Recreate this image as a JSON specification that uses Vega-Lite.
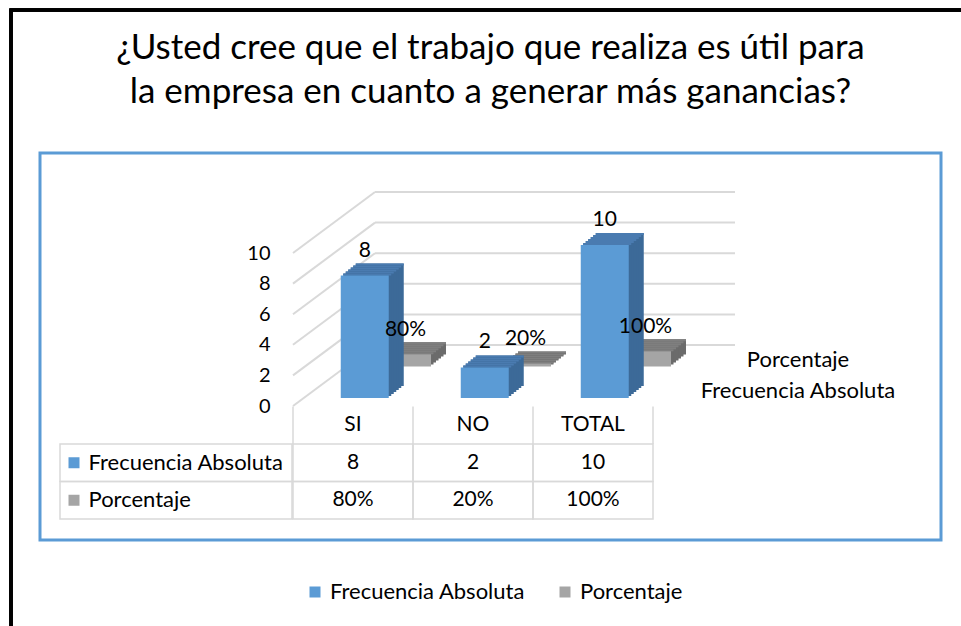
{
  "$schema": "https://vega.github.io/schema/vega-lite/v6.json",
  "width": 901,
  "height": 387,
  "autosize": {"type": "none"},
  "padding": {"left": 40, "top": 153, "right": 20, "bottom": 86},
  "background": "white",
  "config": {
    "font": "Lato",
    "view": {"stroke": "#5b9bd5", "strokeWidth": 3},
    "text": {"color": "#000000", "font": "Lato"}
  },
  "title": {
    "text": ["¿Usted cree que el trabajo que realiza es útil para", "la empresa en cuanto a generar más ganancias?"],
    "font": "Lato",
    "fontSize": 35,
    "fontWeight": "normal",
    "color": "#000000",
    "anchor": "middle",
    "frame": "group",
    "lineHeight": 43.5,
    "baseline": "alphabetic",
    "offset": -129
  },
  "datasets": {
    "datos": [
      {"categoria": "SI", "serie": "Frecuencia Absoluta", "valor": 8},
      {"categoria": "NO", "serie": "Frecuencia Absoluta", "valor": 2},
      {"categoria": "TOTAL", "serie": "Frecuencia Absoluta", "valor": 10},
      {"categoria": "SI", "serie": "Porcentaje", "valor": 0.8},
      {"categoria": "NO", "serie": "Porcentaje", "valor": 0.2},
      {"categoria": "TOTAL", "serie": "Porcentaje", "valor": 1.0}
    ],
    "rejilla": [{"valor": 0}, {"valor": 2}, {"valor": 4}, {"valor": 6}, {"valor": 8}, {"valor": 10}]
  },
  "data": {"name": "datos"},
  "encoding": {
    "x": {
      "field": "categoria",
      "type": "nominal",
      "scale": {"type": "band", "domain": ["SI", "NO", "TOTAL"], "range": [253, 613], "paddingInner": 0, "paddingOuter": 0},
      "axis": null
    }
  },
  "layer": [
    {
      "encoding": {
        "y": {
          "field": "valor",
          "type": "quantitative",
          "scale": {"domain": [-8.758, 16.536], "nice": false, "zero": false},
          "axis": {"values": [0, 2, 4, 6, 8, 10], "orient": "left", "offset": -253, "domain": false, "ticks": false, "tickSize": 0, "grid": false, "labelPadding": 23, "labelFontSize": 20, "labelColor": "#000000", "labelFont": "Lato", "title": null}
        }
      },
      "layer": [
        {"mark": {"type": "rule", "stroke": "#000000", "strokeWidth": 3, "xOffset": -342, "yOffset": -143, "y2Offset": 95}, "encoding": {"x": {"datum": "SI", "type": "nominal"}, "y": {"datum": 16.536, "type": "quantitative"}, "y2": {"datum": -8.758}}},
        {"mark": {"type": "rule", "stroke": "#000000", "strokeWidth": 3, "xOffset": -343.5, "x2Offset": 380, "yOffset": -143, "y2Offset": -143}, "encoding": {"x": {"datum": "SI", "type": "nominal"}, "x2": {"datum": "TOTAL"}, "y": {"datum": 16.536, "type": "quantitative"}, "y2": {"datum": 16.536}}},
        {"data": {"name": "rejilla"}, "mark": {"type": "rule", "stroke": "#d9d9d9", "strokeWidth": 2, "xOffset": 22, "x2Offset": 142, "yOffset": -61, "y2Offset": -61}, "encoding": {"x": {"datum": "SI", "type": "nominal"}, "x2": {"datum": "TOTAL"}, "y2": {"field": "valor"}}},
        {"data": {"name": "rejilla"}, "mark": {"type": "rule", "stroke": "#d9d9d9", "strokeWidth": 2, "xOffset": -60, "x2Offset": 22, "y2Offset": -61}, "encoding": {"x": {"datum": "SI", "type": "nominal"}, "x2": {"datum": "SI"}, "y2": {"field": "valor"}}},
        {
          "transform": [{"filter": "datum.serie == 'Porcentaje'"}],
          "layer": [
            {"mark": {"type": "bar", "width": 48, "color": "#6b6b6b", "xOffset": 69, "yOffset": -51.5, "y2Offset": -51.5}, "encoding": {"y2": {"datum": 0}}},
            {"mark": {"type": "bar", "width": 48, "color": "#7f7f7f", "xOffset": 69, "yOffset": -51.5, "y2Offset": -49.5}, "encoding": {"y2": {"field": "valor"}}},
            {"mark": {"type": "bar", "width": 48, "color": "#6b6b6b", "xOffset": 66.5, "yOffset": -49.5, "y2Offset": -49.5}, "encoding": {"y2": {"datum": 0}}},
            {"mark": {"type": "bar", "width": 48, "color": "#7f7f7f", "xOffset": 66.5, "yOffset": -49.5, "y2Offset": -47.5}, "encoding": {"y2": {"field": "valor"}}},
            {"mark": {"type": "bar", "width": 48, "color": "#6b6b6b", "xOffset": 64, "yOffset": -47.5, "y2Offset": -47.5}, "encoding": {"y2": {"datum": 0}}},
            {"mark": {"type": "bar", "width": 48, "color": "#7f7f7f", "xOffset": 64, "yOffset": -47.5, "y2Offset": -45.5}, "encoding": {"y2": {"field": "valor"}}},
            {"mark": {"type": "bar", "width": 48, "color": "#6b6b6b", "xOffset": 61.5, "yOffset": -45.5, "y2Offset": -45.5}, "encoding": {"y2": {"datum": 0}}},
            {"mark": {"type": "bar", "width": 48, "color": "#7f7f7f", "xOffset": 61.5, "yOffset": -45.5, "y2Offset": -43.5}, "encoding": {"y2": {"field": "valor"}}},
            {"mark": {"type": "bar", "width": 48, "color": "#6b6b6b", "xOffset": 59, "yOffset": -43.5, "y2Offset": -43.5}, "encoding": {"y2": {"datum": 0}}},
            {"mark": {"type": "bar", "width": 48, "color": "#7f7f7f", "xOffset": 59, "yOffset": -43.5, "y2Offset": -41.5}, "encoding": {"y2": {"field": "valor"}}},
            {"mark": {"type": "bar", "width": 48, "color": "#6b6b6b", "xOffset": 56.5, "yOffset": -41.5, "y2Offset": -41.5}, "encoding": {"y2": {"datum": 0}}},
            {"mark": {"type": "bar", "width": 48, "color": "#7f7f7f", "xOffset": 56.5, "yOffset": -41.5, "y2Offset": -39.5}, "encoding": {"y2": {"field": "valor"}}},
            {"mark": {"type": "bar", "width": 48, "xOffset": 54, "yOffset": -39.5, "y2Offset": -39.5}, "encoding": {"y2": {"datum": 0}, "color": {"field": "serie", "type": "nominal"}}}
          ]
        },
        {
          "transform": [{"filter": "datum.serie == 'Frecuencia Absoluta'"}],
          "layer": [
            {"mark": {"type": "bar", "width": 48, "color": "#3c6a98", "xOffset": 26.75, "yOffset": -20, "y2Offset": -20}, "encoding": {"y2": {"datum": 0}}},
            {"mark": {"type": "bar", "width": 48, "color": "#4a7bb0", "xOffset": 26.75, "yOffset": -20, "y2Offset": -18}, "encoding": {"y2": {"field": "valor"}}},
            {"mark": {"type": "bar", "width": 48, "color": "#3c6a98", "xOffset": 24.25, "yOffset": -18, "y2Offset": -18}, "encoding": {"y2": {"datum": 0}}},
            {"mark": {"type": "bar", "width": 48, "color": "#4a7bb0", "xOffset": 24.25, "yOffset": -18, "y2Offset": -16}, "encoding": {"y2": {"field": "valor"}}},
            {"mark": {"type": "bar", "width": 48, "color": "#3c6a98", "xOffset": 21.75, "yOffset": -16, "y2Offset": -16}, "encoding": {"y2": {"datum": 0}}},
            {"mark": {"type": "bar", "width": 48, "color": "#4a7bb0", "xOffset": 21.75, "yOffset": -16, "y2Offset": -14}, "encoding": {"y2": {"field": "valor"}}},
            {"mark": {"type": "bar", "width": 48, "color": "#3c6a98", "xOffset": 19.25, "yOffset": -14, "y2Offset": -14}, "encoding": {"y2": {"datum": 0}}},
            {"mark": {"type": "bar", "width": 48, "color": "#4a7bb0", "xOffset": 19.25, "yOffset": -14, "y2Offset": -12}, "encoding": {"y2": {"field": "valor"}}},
            {"mark": {"type": "bar", "width": 48, "color": "#3c6a98", "xOffset": 16.75, "yOffset": -12, "y2Offset": -12}, "encoding": {"y2": {"datum": 0}}},
            {"mark": {"type": "bar", "width": 48, "color": "#4a7bb0", "xOffset": 16.75, "yOffset": -12, "y2Offset": -10}, "encoding": {"y2": {"field": "valor"}}},
            {"mark": {"type": "bar", "width": 48, "color": "#3c6a98", "xOffset": 14.25, "yOffset": -10, "y2Offset": -10}, "encoding": {"y2": {"datum": 0}}},
            {"mark": {"type": "bar", "width": 48, "color": "#4a7bb0", "xOffset": 14.25, "yOffset": -10, "y2Offset": -8}, "encoding": {"y2": {"field": "valor"}}},
            {"mark": {"type": "bar", "width": 48, "xOffset": 11.75, "yOffset": -8, "y2Offset": -8}, "encoding": {"y2": {"datum": 0}, "color": {"field": "serie", "type": "nominal"}}},
            {"mark": {"type": "text", "fontSize": 21, "dx": 11.75, "dy": -27, "baseline": "alphabetic", "align": "center"}, "encoding": {"text": {"field": "valor", "type": "quantitative", "format": "d"}}}
          ]
        },
        {"transform": [{"filter": "datum.serie == 'Porcentaje'"}], "mark": {"type": "text", "fontSize": 21, "dx": 52.5, "dy": -57.5, "baseline": "alphabetic", "align": "center"}, "encoding": {"text": {"field": "valor", "type": "quantitative", "format": ".0%"}}}
      ]
    },
    {
      "encoding": {
        "y": {
          "field": "serie",
          "type": "nominal",
          "scale": {"domain": ["Categoría", "Frecuencia Absoluta", "Porcentaje"], "range": [253.5, 366], "paddingInner": 0, "paddingOuter": 0},
          "axis": {"values": ["Frecuencia Absoluta", "Porcentaje"], "orient": "left", "labelAlign": "left", "labelPadding": -48, "domain": false, "ticks": false, "tickSize": 0, "grid": false, "labelFontSize": 22, "labelLimit": 400, "labelColor": "#000000", "labelFont": "Lato", "title": null}
        }
      },
      "layer": [
        {"mark": {"type": "rect", "fill": "transparent", "stroke": "#d9d9d9", "strokeWidth": 1.5}},
        {"transform": [{"filter": "datum.serie == 'Frecuencia Absoluta'"}], "mark": {"type": "rule", "stroke": "#d9d9d9", "strokeWidth": 1.5, "xOffset": -60, "yOffset": -18.75, "y2Offset": -18.75}, "encoding": {"y": {"datum": "Categoría", "type": "nominal"}, "y2": {"datum": "Frecuencia Absoluta"}}},
        {"transform": [{"filter": "datum.categoria == 'TOTAL' && datum.serie == 'Frecuencia Absoluta'"}], "mark": {"type": "rule", "stroke": "#d9d9d9", "strokeWidth": 1.5, "xOffset": 60, "yOffset": -18.75, "y2Offset": -18.75}, "encoding": {"y": {"datum": "Categoría", "type": "nominal"}, "y2": {"datum": "Frecuencia Absoluta"}}},
        {"transform": [{"filter": "datum.categoria == 'SI'"}], "mark": {"type": "bar", "width": 232, "xOffset": -177, "fill": "transparent", "stroke": "#d9d9d9", "strokeWidth": 1.5}, "encoding": {"x": {"datum": "SI", "type": "nominal"}}},
        {"transform": [{"filter": "datum.serie == 'Frecuencia Absoluta'"}], "mark": {"type": "text", "fontSize": 21}, "encoding": {"y": {"datum": "Categoría", "type": "nominal"}, "text": {"field": "categoria"}}},
        {"transform": [{"filter": "datum.serie == 'Frecuencia Absoluta'"}], "mark": {"type": "text", "fontSize": 21}, "encoding": {"text": {"field": "valor", "type": "quantitative", "format": "d"}}},
        {"transform": [{"filter": "datum.serie == 'Porcentaje'"}], "mark": {"type": "text", "fontSize": 21}, "encoding": {"text": {"field": "valor", "type": "quantitative", "format": ".0%"}}},
        {"transform": [{"filter": "datum.categoria == 'SI'"}], "mark": {"type": "point", "shape": "square", "size": 121, "filled": true, "opacity": 1, "xOffset": -279}, "encoding": {"x": {"datum": "SI", "type": "nominal"}, "color": {"field": "serie", "type": "nominal"}}}
      ]
    },
    {
      "transform": [{"filter": "datum.categoria == 'SI'"}],
      "mark": {"type": "text", "fontSize": 22, "dx": 205, "align": "center"},
      "encoding": {
        "x": {"datum": "TOTAL", "type": "nominal"},
        "y": {"field": "serie", "type": "nominal", "scale": {"domain": ["Porcentaje", "Frecuencia Absoluta"], "range": [191.5, 253.5], "paddingInner": 0, "paddingOuter": 0}, "axis": null},
        "text": {"field": "serie"}
      }
    },
    {
      "mark": {"type": "point", "opacity": 0},
      "encoding": {
        "color": {
          "field": "serie",
          "type": "nominal",
          "scale": {"domain": ["Frecuencia Absoluta", "Porcentaje"], "range": ["#5b9bd5", "#a5a5a5"]},
          "legend": {"orient": "none", "legendX": 264, "legendY": 428, "direction": "horizontal", "title": null, "symbolType": "square", "symbolSize": 121, "symbolStrokeWidth": 0, "symbolOpacity": 1, "labelFontSize": 22, "labelLimit": 400, "labelFont": "Lato", "labelColor": "#000000", "labelOffset": 4, "columnPadding": 28, "padding": 0}
        }
      }
    }
  ],
  "resolve": {"scale": {"y": "independent"}}
}
